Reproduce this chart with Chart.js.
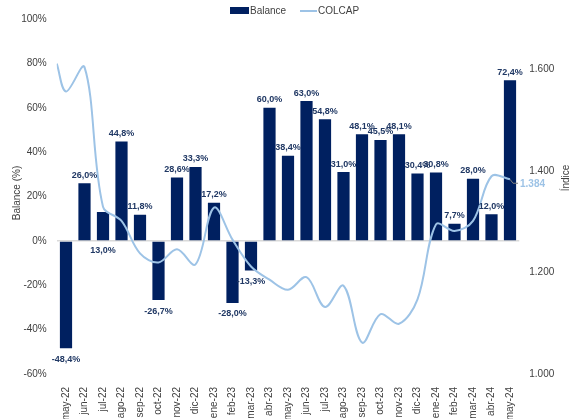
<!DOCTYPE html>
<html>
<head>
<meta charset="utf-8">
<script src="https://cdn.jsdelivr.net/npm/chart.js@4.4.1/dist/chart.umd.min.js"></script>
<style>
  html, body { margin: 0; padding: 0; background: #fff; }
  #wrap { width: 576px; height: 419px; }
</style>
</head>
<body>
<div id="wrap"><canvas id="chart"></canvas></div>
<script>
const months = ["may-22", "jun-22", "jul-22", "ago-22", "sep-22", "oct-22", "nov-22", "dic-22",
  "ene-23", "feb-23", "mar-23", "abr-23", "may-23", "jun-23", "jul-23", "ago-23", "sep-23",
  "oct-23", "nov-23", "dic-23", "ene-24", "feb-24", "mar-24", "abr-24", "may-24"];

// Balance (%)
const balance = [-48.4, 26.0, 13.0, 44.8, 11.8, -26.7, 28.6, 33.3, 17.2, -28.0, -13.3, 60.0,
  38.4, 63.0, 54.8, 31.0, 48.1, 45.5, 48.1, 30.4, 30.8, 7.7, 28.0, 12.0, 72.4];

// COLCAP (puntos), first value sits on the left edge of the chart
const colcapStart = 1612;
const colcap = [1557, 1605, 1330, 1302, 1238, 1220, 1246, 1216, 1328, 1265, 1212, 1186,
  1166, 1191, 1132, 1174, 1062, 1118, 1099, 1147, 1295, 1282, 1302, 1390, 1384];

const navy = "#002060";
const labelNavy = "#203864";
const lightBlue = "#9dc3e6";
const tickGrey = "#404040";
const FONT = '"Liberation Sans", Arial, sans-serif';

const fmtMiles = (v) => Math.round(v).toString().replace(/\B(?=(\d{3})+(?!\d))/g, ".");
const fmtPct = (v) => v.toFixed(1).replace(".", ",") + "%";

const colcapPoints = [{ x: -0.5, y: colcapStart }].concat(colcap.map((v, i) => ({ x: i, y: v })));

// labels, legend and titles
const extras = {
  id: "extras",
  afterDatasetsDraw(chart) {
    const ctx = chart.ctx;
    const meta = chart.getDatasetMeta(0);
    const y0 = chart.scales.y.getPixelForValue(0);
    ctx.save();
    ctx.font = "bold 9px " + FONT;
    ctx.fillStyle = labelNavy;
    ctx.textAlign = "center";
    ctx.textBaseline = "middle";
    meta.data.forEach((bar, i) => {
      const v = balance[i];
      let y = v >= 0 ? bar.y - 8 : bar.y + 11;
      if (i === 2) y = y0 + 10; // jul-22 label sits under the axis
      ctx.fillText(fmtPct(v), bar.x, y);
    });

    // last COLCAP value
    const lm = chart.getDatasetMeta(1).data;
    const last = lm[lm.length - 1];
    ctx.strokeStyle = "#7f7f7f";
    ctx.lineWidth = 1;
    ctx.beginPath();
    ctx.moveTo(last.x, last.y);
    ctx.lineTo(last.x + 3, last.y + 4);
    ctx.lineTo(last.x + 8, last.y + 4);
    ctx.stroke();
    ctx.font = "bold 10px " + FONT;
    ctx.fillStyle = lightBlue;
    ctx.textAlign = "left";
    ctx.fillText(fmtMiles(colcap[colcap.length - 1]), last.x + 10, last.y + 5);
    ctx.restore();
  },
  afterDraw(chart) {
    const ctx = chart.ctx;
    ctx.save();
    ctx.font = "10px " + FONT;
    ctx.fillStyle = tickGrey;
    ctx.textBaseline = "middle";

    // legend
    ctx.fillStyle = navy;
    ctx.fillRect(230, 7, 19, 7);
    ctx.fillStyle = tickGrey;
    ctx.textAlign = "left";
    ctx.fillText("Balance", 250, 11);
    ctx.strokeStyle = lightBlue;
    ctx.lineWidth = 2;
    ctx.beginPath();
    ctx.moveTo(300, 11);
    ctx.lineTo(317, 11);
    ctx.stroke();
    ctx.fillText("COLCAP", 318, 11);

    // axis titles
    ctx.textAlign = "center";
    ctx.translate(17, 193);
    ctx.rotate(-Math.PI / 2);
    ctx.fillText("Balance (%)", 0, 0);
    ctx.setTransform(1, 0, 0, 1, 0, 0);
    ctx.translate(566, 178);
    ctx.rotate(-Math.PI / 2);
    ctx.fillText("Índice", 0, 0);
    ctx.restore();
  }
};

new Chart(document.getElementById("chart"), {
  data: {
    labels: months,
    datasets: [
      {
        type: "bar",
        label: "Balance",
        data: balance,
        backgroundColor: navy,
        grouped: false,
        barPercentage: 0.66,
        categoryPercentage: 1,
        xAxisID: "x",
        yAxisID: "y",
        order: 1
      },
      {
        type: "line",
        label: "COLCAP",
        data: colcapPoints,
        borderColor: lightBlue,
        borderWidth: 2,
        pointRadius: 0,
        tension: 0.35,
        fill: false,
        xAxisID: "x2",
        yAxisID: "y2",
        order: 0
      }
    ]
  },
  options: {
    responsive: true,
    maintainAspectRatio: false,
    animation: false,
    devicePixelRatio: 1,
    layout: { padding: { top: 19, left: 0, right: 0, bottom: 0 } },
    plugins: {
      legend: { display: false },
      tooltip: { enabled: false }
    },
    scales: {
      x: {
        type: "category",
        offset: true,
        grid: { display: false },
        border: { display: false },
        ticks: {
          autoSkip: false,
          maxRotation: 90,
          minRotation: 90,
          padding: 5,
          color: tickGrey,
          font: { family: FONT, size: 10 }
        },
        afterFit: (s) => { s.height = 45; }
      },
      x2: {
        type: "linear",
        min: -0.5,
        max: 24.5,
        display: false
      },
      y: {
        position: "left",
        min: -60,
        max: 100,
        border: { display: false },
        grid: {
          drawTicks: false,
          color: (c) => (c.tick && c.tick.value === 0 ? "#d9d9d9" : "rgba(0,0,0,0)"),
          lineWidth: 1.5
        },
        ticks: {
          stepSize: 20,
          padding: 10,
          color: tickGrey,
          font: { family: FONT, size: 10 },
          callback: (v) => v + "%"
        },
        afterFit: (s) => { s.width = 56.75; }
      },
      y2: {
        position: "right",
        min: 1000,
        max: 1700,
        border: { display: false },
        grid: { display: false, drawTicks: false },
        ticks: {
          stepSize: 200,
          includeBounds: false,
          padding: 10,
          color: tickGrey,
          font: { family: FONT, size: 10 },
          callback: (v) => fmtMiles(v)
        },
        afterFit: (s) => { s.width = 56.75; }
      }
    }
  },
  plugins: [extras]
});
</script>
</body>
</html>
